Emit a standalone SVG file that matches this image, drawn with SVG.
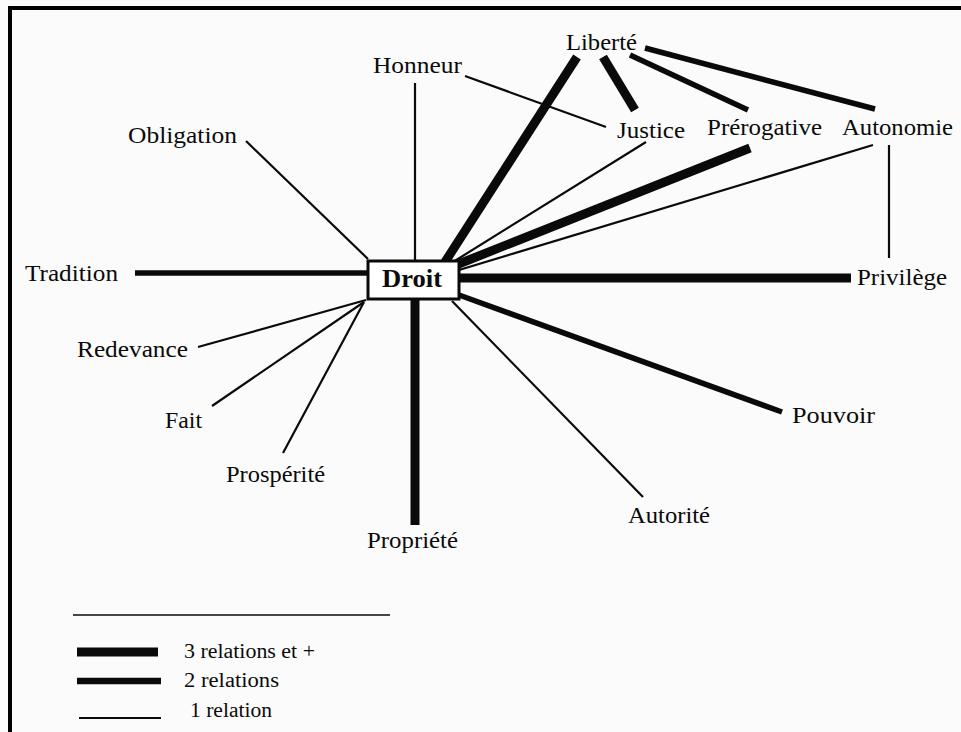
<svg xmlns="http://www.w3.org/2000/svg" width="961" height="732" viewBox="0 0 961 732">
  <style>
    .lbl { font-family: "Liberation Serif", "Times New Roman", serif; font-size: 24px; fill: #0a0a0a; }
    .leg { font-family: "Liberation Serif", "Times New Roman", serif; font-size: 20.5px; fill: #0a0a0a; }
    .hub { font-family: "Liberation Serif", "Times New Roman", serif; font-size: 25px; font-weight: bold; fill: #0a0a0a; }
    .c { stroke: #0a0a0a; fill: none; stroke-linecap: butt; }
    .w1 { stroke-width: 2.2; }
    .w2 { stroke-width: 5.5; }
    .w3 { stroke-width: 9; }
  </style>

  <!-- page -->
  <rect x="0" y="0" width="961" height="732" fill="#fbfbfb"/>
  <g id="frame" stroke="#000" stroke-width="4">
    <line x1="8" y1="8" x2="961" y2="8"/>
    <line x1="10" y1="6" x2="10" y2="732"/>
  </g>

  <!-- connectors -->
  <g id="connectors">
    <!-- links to Droit -->
    <line class="c w2" x1="135" y1="273" x2="368" y2="273"/>
    <line class="c w1" x1="415" y1="83" x2="415" y2="261"/>
    <line class="c w1" x1="246" y1="141" x2="368" y2="259"/>
    <line class="c w3" x1="577" y1="57" x2="445" y2="262"/>
    <line class="c w1" x1="646" y1="142" x2="453" y2="262"/>
    <line class="c w3" x1="750" y1="148" x2="456" y2="265"/>
    <line class="c w1" x1="873" y1="145" x2="459" y2="270"/>
    <line class="c w3" x1="459" y1="278" x2="851" y2="278"/>
    <line class="c w2" x1="459" y1="295" x2="782" y2="412"/>
    <line class="c w1" x1="452" y1="301" x2="643" y2="497"/>
    <line class="c w3" x1="415" y1="299" x2="415" y2="525"/>
    <line class="c w1" x1="198" y1="347" x2="366" y2="300"/>
    <line class="c w1" x1="212" y1="406" x2="364" y2="302"/>
    <line class="c w1" x1="283" y1="453" x2="364" y2="302"/>
    <!-- links between the other notions -->
    <line class="c w1" x1="465" y1="76" x2="606" y2="127"/>
    <line class="c w3" x1="603" y1="57" x2="635" y2="110"/>
    <line class="c w2" x1="630" y1="55" x2="748" y2="110"/>
    <line class="c w2" x1="645" y1="48" x2="875" y2="109"/>
    <line class="c w1" x1="889" y1="145" x2="889" y2="258"/>
  </g>

  <!-- central node -->
  <g id="droit">
    <rect x="368" y="261" width="91" height="38" fill="#fff" stroke="#0a0a0a" stroke-width="3"/>
    <text class="hub" x="382" y="287" textLength="60" lengthAdjust="spacingAndGlyphs">Droit</text>
  </g>

  <!-- notions -->
  <g id="honneur"><text class="lbl" x="373" y="73" textLength="89" lengthAdjust="spacingAndGlyphs">Honneur</text></g>
  <g id="obligation"><text class="lbl" x="128" y="143" textLength="109" lengthAdjust="spacingAndGlyphs">Obligation</text></g>
  <g id="liberte"><text class="lbl" x="566" y="50" textLength="71" lengthAdjust="spacingAndGlyphs">Liberté</text></g>
  <g id="justice"><text class="lbl" x="617" y="138" textLength="68" lengthAdjust="spacingAndGlyphs">Justice</text></g>
  <g id="prerogative"><text class="lbl" x="707" y="135" textLength="115" lengthAdjust="spacingAndGlyphs">Prérogative</text></g>
  <g id="autonomie"><text class="lbl" x="842" y="135" textLength="111" lengthAdjust="spacingAndGlyphs">Autonomie</text></g>
  <g id="tradition"><text class="lbl" x="25" y="281" textLength="93" lengthAdjust="spacingAndGlyphs">Tradition</text></g>
  <g id="privilege"><text class="lbl" x="857" y="285" textLength="90" lengthAdjust="spacingAndGlyphs">Privilège</text></g>
  <g id="redevance"><text class="lbl" x="77" y="357" textLength="111" lengthAdjust="spacingAndGlyphs">Redevance</text></g>
  <g id="fait"><text class="lbl" x="165" y="428" textLength="37" lengthAdjust="spacingAndGlyphs">Fait</text></g>
  <g id="prosperite"><text class="lbl" x="226" y="482" textLength="99" lengthAdjust="spacingAndGlyphs">Prospérité</text></g>
  <g id="pouvoir"><text class="lbl" x="792" y="423" textLength="83" lengthAdjust="spacingAndGlyphs">Pouvoir</text></g>
  <g id="autorite"><text class="lbl" x="628" y="523" textLength="82" lengthAdjust="spacingAndGlyphs">Autorité</text></g>
  <g id="propriete"><text class="lbl" x="367" y="548" textLength="91" lengthAdjust="spacingAndGlyphs">Propriété</text></g>

  <!-- legend -->
  <g id="legend">
    <line class="c" stroke-width="1.5" x1="73" y1="615" x2="390" y2="615"/>
    <line class="c w3" x1="77" y1="652" x2="158" y2="652"/>
    <text class="leg" x="184" y="658" textLength="131" lengthAdjust="spacingAndGlyphs">3 relations et +</text>
    <line class="c" stroke-width="6.5" x1="77" y1="681" x2="161" y2="681"/>
    <text class="leg" x="184" y="687" textLength="95" lengthAdjust="spacingAndGlyphs">2 relations</text>
    <line class="c w1" x1="79" y1="718" x2="161" y2="718"/>
    <text class="leg" x="190" y="717" textLength="82" lengthAdjust="spacingAndGlyphs">1 relation</text>
  </g>
</svg>
